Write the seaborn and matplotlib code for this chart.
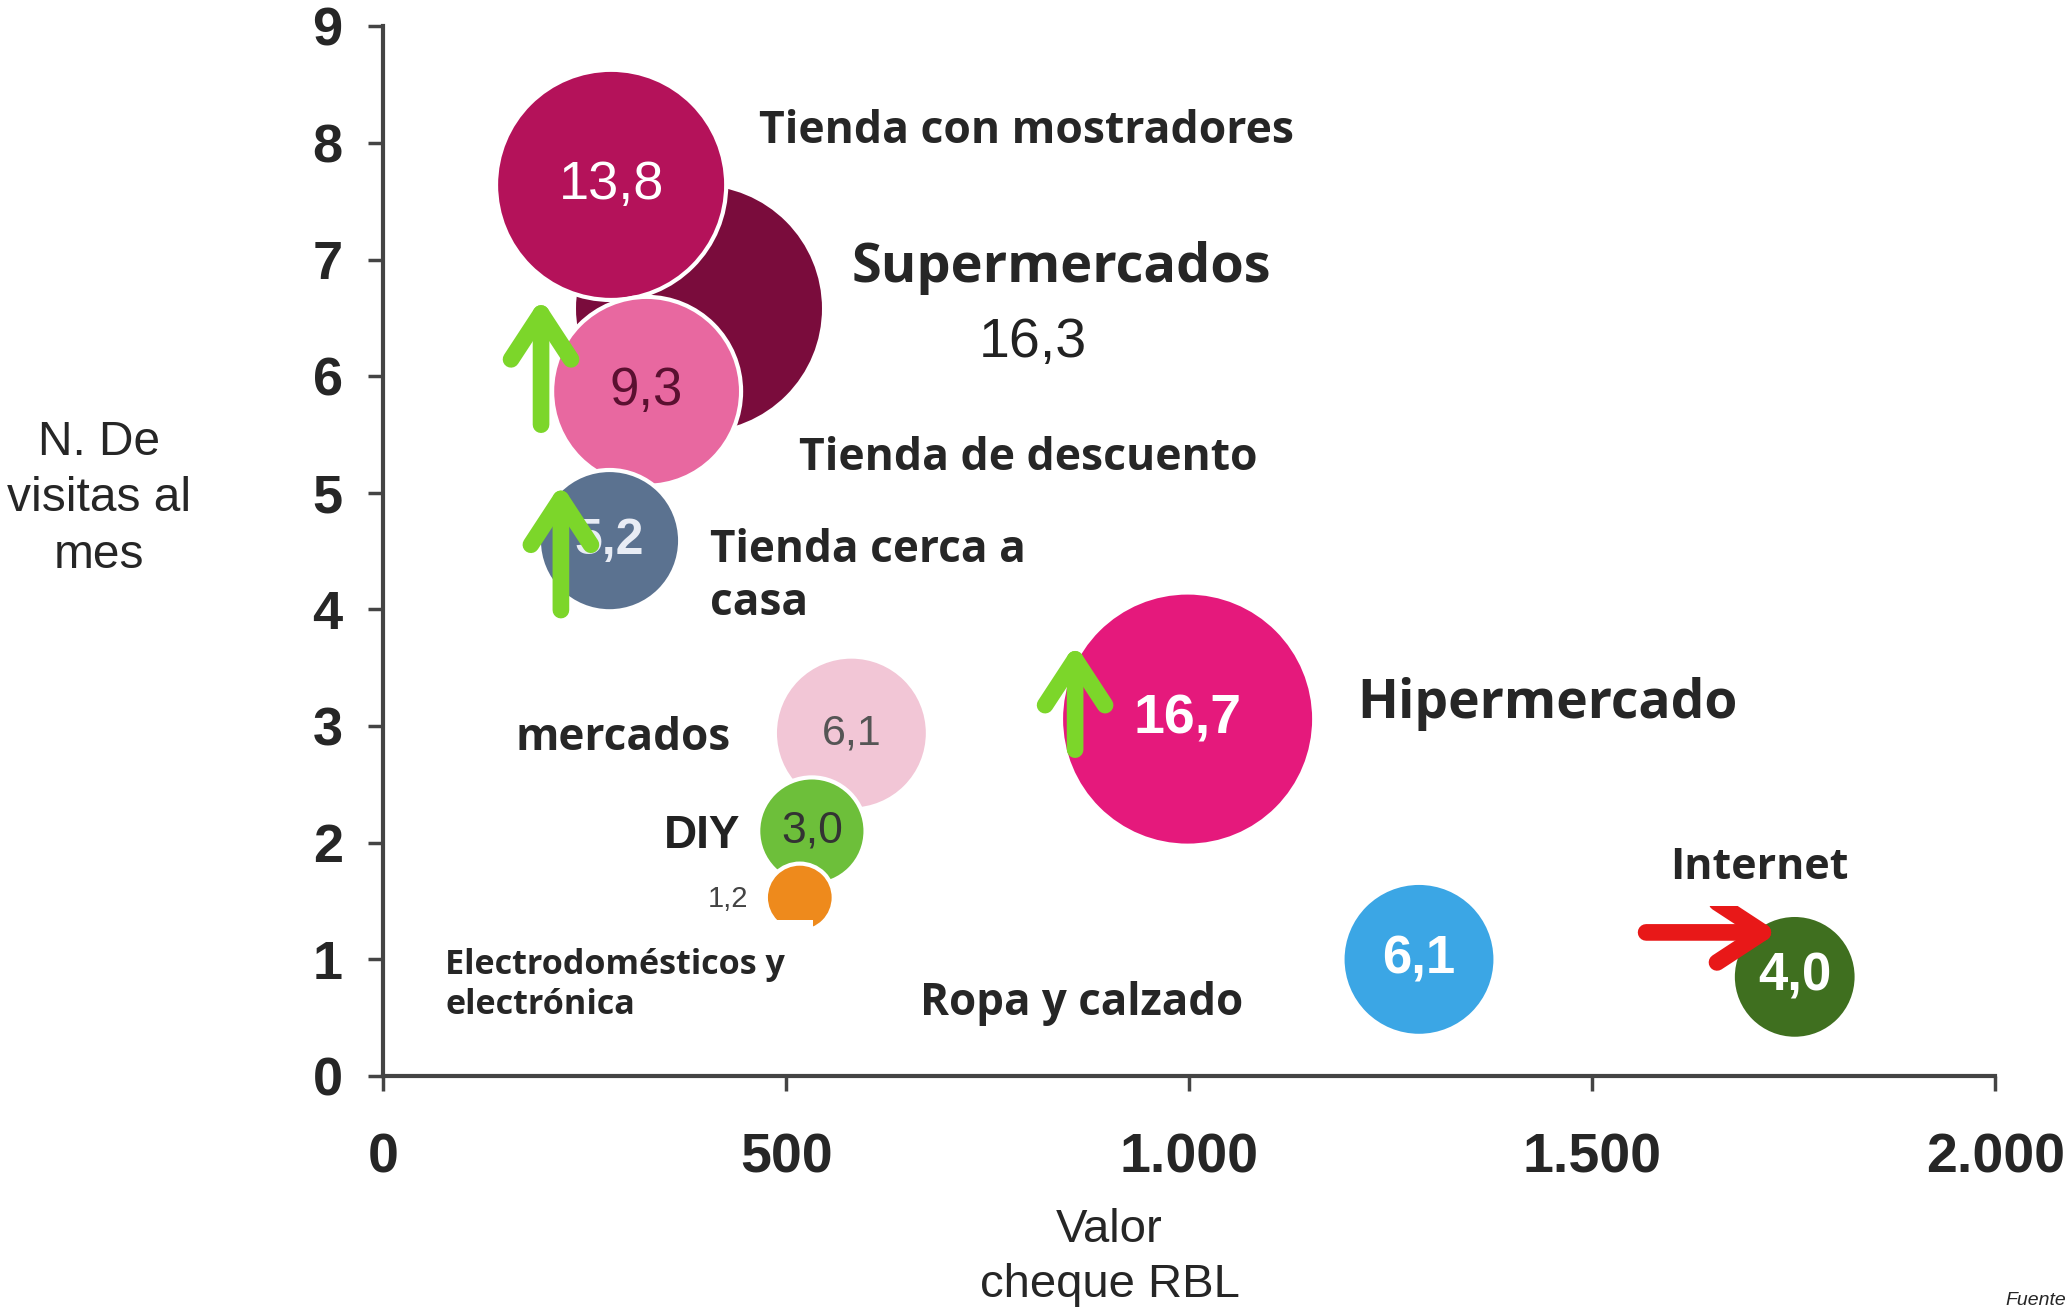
import pandas as pd
import matplotlib
matplotlib.use("Agg")
import matplotlib.pyplot as plt
from matplotlib.text import OffsetFrom
import seaborn as sns

# datos: formato de tienda, valor del cheque (RBL), visitas al mes, cuota (%)
formatos = ["Supermercados", "Tienda con mostradores", "Tienda de descuento",
            "Tienda cerca a casa", "mercados", "DIY",
            "Electrodomésticos y electrónica", "Hipermercado",
            "Ropa y calzado", "Internet"]
cheque = [392, 283, 327, 281, 581, 532, 517, 998, 1285, 1751]
visitas = [6.58, 7.64, 5.87, 4.59, 2.94, 2.10, 1.53, 3.06, 1.00, 0.85]
cuota = [16.3, 13.8, 9.3, 5.2, 6.1, 3.0, 1.2, 16.7, 6.1, 4.0]

xticks = [0, 500, 1000, 1500, 2000]
yticks = list(range(10))

df = pd.DataFrame({"formato": formatos, "cheque": cheque,
                   "visitas": visitas, "cuota": cuota})

#colores de cada burbuja
colores = {"Supermercados": "#7a0c3c", "Tienda con mostradores": "#b4125a",
           "Tienda de descuento": "#e868a0", "Tienda cerca a casa": "#5b7290",
           "mercados": "#f2c6d6", "DIY": "#6dbf3a",
           "Electrodomésticos y electrónica": "#ee8a1c",
           "Hipermercado": "#e5197c", "Ropa y calzado": "#3ba6e5",
           "Internet": "#3f6f1f"}
# color, tamaño y peso del numero, desplazamiento (pt) respecto al centro
estilo_num = {"Supermercados": ("#222222", 40, "normal", (240, -25)),
              "Tienda con mostradores": ("white", 39, "normal", (0, 0)),
              "Tienda de descuento": ("#5a1030", 38, "normal", (0, 0)),
              "Tienda cerca a casa": ("#e8ecf4", 36, "bold", (0, 0)),
              "mercados": ("#555555", 31, "normal", (0, 0)),
              "DIY": ("#333333", 32, "normal", (0, 0)),
              "Electrodomésticos y electrónica": ("#444444", 21, "normal", (-52, -1)),
              "Hipermercado": ("white", 40, "bold", (0, 0)),
              "Ropa y calzado": ("white", 38, "bold", (0, 0)),
              "Internet": ("white", 38, "bold", (0, 0))}
# etiquetas de texto (posicion en datos, tamaño, margen de la caja)
nombres = {"Tienda con mostradores": ("Tienda con mostradores", 466, 8.10, 32, 0.4),
           "Supermercados": ("Supermercados", 581, 6.93, 39, 0.3),
           "Tienda de descuento": ("Tienda de descuento", 516, 5.29, 32, 0.4),
           "Tienda cerca a casa": ("Tienda cerca a\ncasa", 406, 4.28, 31.8, 0.3),
           "mercados": ("mercados", 164, 2.89, 31.8, 0.3),
           "Electrodomésticos y electrónica": ("Electrodomésticos y\nelectrónica", 77, 0.78, 24.6, 0.82),
           "Ropa y calzado": ("Ropa y calzado", 666, 0.62, 31.6, 0.3),
           "Hipermercado": ("Hipermercado", 1208, 3.19, 38.5, 0.3),
           "Internet": ("Internet", 1596, 1.79, 31, 0.4)}
# flechas: (formato, cola en pt, punta en pt, color)
flechas = [("Tienda de descuento", (-76, -24), (-76, 67), "#7cd62a"),
           ("Tienda cerca a casa", (-35, -50), (-35, 41), "#7cd62a"),
           ("Hipermercado", (-81, -22), (-81, 54), "#7cd62a"),
           ("Internet", (-107, 32), (-12, 32), "#e81818")]

sns.set_style("white")
plt.rcParams["font.family"] = ["Liberation Sans", "DejaVu Sans"]

fig = plt.figure(figsize=(20.7, 13.13), dpi=100)
ax = fig.add_axes([0.185, 0.1805, 0.779, 0.7995])

K = 1990
sns.scatterplot(data=df, x="cheque", y="visitas", hue="formato", palette=colores,
                size="cuota", sizes=(1.2 * K, 16.7 * K), size_norm=(1.2, 16.7),
                edgecolor="white", linewidth=3, legend=False, ax=ax,
                clip_on=False, zorder=2)

# numeros de cuota
for _, r in df.iterrows():
    col, fs, peso, off = estilo_num[r["formato"]]
    ax.annotate(f"{r['cuota']:.1f}".replace(".", ","), (r["cheque"], r["visitas"]),
                xytext=off, textcoords="offset points", ha="center", va="center",
                color=col, fontsize=fs, fontweight=peso, zorder=3)

ax.text(349, 2.06, "DIY", fontsize=33, fontweight="bold", color="#222222",
        va="center", zorder=3)

# flechas verdes y roja
for f, cola, punta, col in flechas:
    fila = df[df["formato"] == f].iloc[0]
    ref = OffsetFrom(ax.transData, (fila["cheque"], fila["visitas"]), unit="points")
    ax.annotate("", xy=punta, xycoords=ref, xytext=cola, textcoords=ref,
                arrowprops=dict(arrowstyle="->,head_length=0.55,head_width=0.36",
                                color=col, lw=12, shrinkA=0, shrinkB=0,
                                mutation_scale=60),
                zorder=4)

for f, (txt, x, y, fs, pad) in nombres.items():
    ax.text(x, y, txt, fontsize=fs, fontweight="bold", va="center", ha="left",
            family=["Open Sans", "DejaVu Sans"], linespacing=1.25, zorder=5,
            bbox=dict(boxstyle=f"square,pad={pad}", fc="white", ec="none"))

ax.set_xlim(0, 2000)
ax.set_ylim(0, 9)
ax.set_xticks(xticks, [f"{v:,}".replace(",", ".") for v in xticks],
              fontsize=40, fontweight="bold")
ax.set_yticks(yticks, [str(v) for v in yticks], fontsize=39, fontweight="bold")
ax.tick_params(axis="both", direction="out", length=11, width=2.5, color="#444444",
               bottom=True, left=True)
ax.tick_params(axis="x", pad=30)
ax.tick_params(axis="y", pad=18)
ax.set_xlabel("")
ax.set_ylabel("")
sns.despine(ax=ax)
for s in ["left", "bottom"]:
    ax.spines[s].set_color("#444444")
    ax.spines[s].set_linewidth(3)

fig.text(0.048, 0.62, "N. De\nvisitas al\nmes", ha="center", va="center",
         fontsize=34.5, linespacing=1.33)
fig.text(0.536, 0.042, "Valor\ncheque RBL", ha="center", va="center",
         fontsize=34, linespacing=1.33)
fig.text(0.9686, 0.003, "Fuente", ha="left", va="bottom", fontsize=14, style="italic")

fig.savefig("out.png", dpi=100)
